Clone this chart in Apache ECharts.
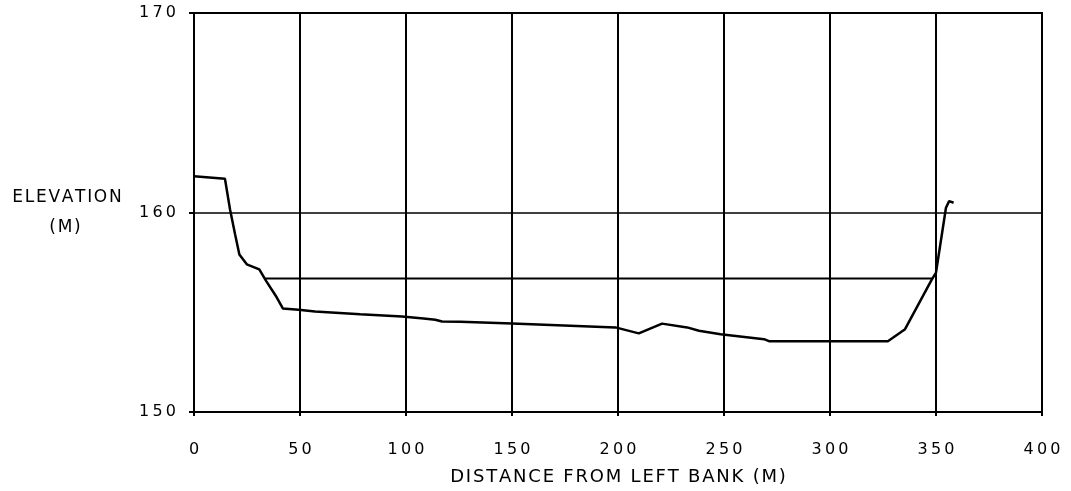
<!DOCTYPE html>
<html>
<head>
<meta charset="utf-8">
<script src="https://cdn.jsdelivr.net/npm/echarts@6/dist/echarts.min.js"></script>
<style>
  html, body { margin: 0; padding: 0; background: #fff; }
  #main { width: 1071px; height: 491px; }
</style>
</head>
<body>
<div id="main"></div>
<script>
// river bed profile, distance (m) / elevation (m)
var profileX = [0, 14.6, 17, 19.4, 21.4, 24.9, 30.8, 34, 39, 41.9, 49.3, 57.1, 78.4, 98.1, 108.3, 113.8, 117, 125.6, 150, 198.8, 209.8, 220.8, 232.6, 238.2, 248.4, 268.9, 271.2, 327.3, 335.4, 347.8, 350, 354.7, 356.2, 358.3];
var profileY = [161.82, 161.69, 160.15, 158.9, 157.9, 157.4, 157.15, 156.57, 155.75, 155.19, 155.12, 155.04, 154.9, 154.79, 154.69, 154.62, 154.54, 154.52, 154.44, 154.24, 153.94, 154.43, 154.24, 154.07, 153.9, 153.65, 153.55, 153.55, 154.15, 156.6, 156.99, 160.24, 160.57, 160.49];

// water surface
var waterX = [33.5, 348.5];
var waterY = [156.69, 156.69];

var xTicks = [0, 50, 100, 150, 200, 250, 300, 350, 400];
var yTicks = [150, 160, 170];

var font = 'DejaVu Sans';

// the scanned lettering is spread out, fake it with thin spaces
function spaced(v) {
  return String(v).split('').join('\u2009');
}
function loose(s) {
  return s.split('').join('\u200a');
}

function pairs(xs, ys) {
  var out = [];
  for (var i = 0; i < xs.length; i++) {
    out.push([xs[i], ys[i]]);
  }
  return out;
}

var chart = echarts.init(document.getElementById('main'), null, { renderer: 'canvas' });

var option = {
  backgroundColor: '#ffffff',
  animation: false,
  grid: {
    left: 194,
    right: 29,
    top: 13,
    bottom: 78,
    show: true,
    borderColor: '#000',
    borderWidth: 2
  },
  graphic: [
    {
      type: 'text',
      x: 67,
      y: 198,
      style: {
        text: loose('ELEVATION'),
        font: '17px "DejaVu Sans"',
        fill: '#000',
        align: 'center',
        verticalAlign: 'middle'
      }
    },
    {
      type: 'text',
      x: 65,
      y: 228,
      style: {
        text: loose('(M)'),
        font: '17px "DejaVu Sans"',
        fill: '#000',
        align: 'center',
        verticalAlign: 'middle'
      }
    }
  ],
  xAxis: {
    type: 'value',
    min: 0,
    max: 400,
    interval: 50,
    name: loose('DISTANCE FROM LEFT BANK (M)'),
    nameLocation: 'middle',
    nameGap: 56,
    nameTextStyle: { fontFamily: font, fontSize: 18, color: '#000' },
    axisLine: { show: true, lineStyle: { color: '#000', width: 2 } },
    axisTick: { show: true, length: 4, lineStyle: { color: '#000', width: 2 } },
    axisLabel: {
      margin: 30,
      fontFamily: font,
      fontSize: 16,
      color: '#000',
      formatter: function (v) { return xTicks.indexOf(v) >= 0 ? spaced(v) : ''; }
    },
    splitLine: { show: true, lineStyle: { color: '#000', width: 2 } }
  },
  yAxis: {
    type: 'value',
    min: 150,
    max: 170,
    interval: 10,
    axisLine: { show: true, lineStyle: { color: '#000', width: 2 } },
    axisTick: { show: true, length: 5, lineStyle: { color: '#000', width: 2 } },
    axisLabel: {
      margin: 18,
      fontFamily: font,
      fontSize: 16,
      color: '#000',
      formatter: function (v) { return yTicks.indexOf(v) >= 0 ? spaced(v) : ''; }
    },
    splitLine: { show: true, lineStyle: { color: '#000', width: 1.5 } }
  },
  series: [
    {
      name: 'bed',
      type: 'line',
      data: pairs(profileX, profileY),
      symbol: 'none',
      lineStyle: { color: '#000', width: 2.5 }
    },
    {
      name: 'water',
      type: 'line',
      data: pairs(waterX, waterY),
      symbol: 'none',
      lineStyle: { color: '#000', width: 2 }
    }
  ]
};

chart.setOption(option);
</script>
</body>
</html>
